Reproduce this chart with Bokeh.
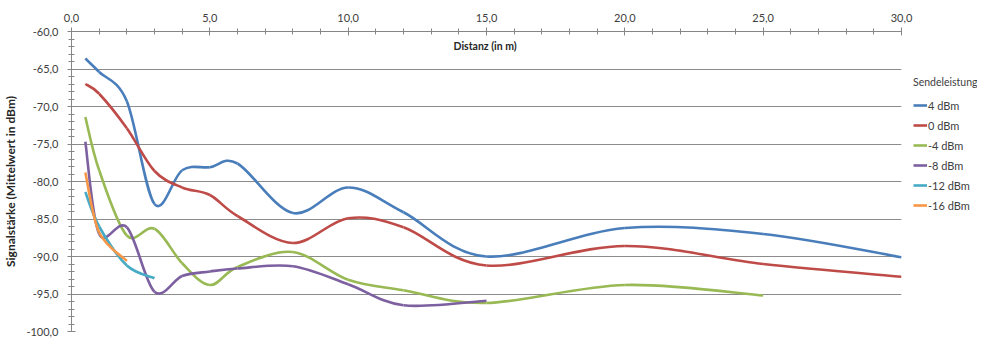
from bokeh.plotting import figure
from bokeh.layouts import row
from bokeh.models import (Range1d, SingleIntervalTicker, CustomJSTickFormatter, Label,
                          Legend, LegendItem, ColumnDataSource)
from bokeh.embed import file_html
from bokeh.resources import INLINE

# ---- data (distance in m, mean signal strength in dBm) ----
dist_p4 = [0.5, 1, 2, 3, 4, 5, 6, 8, 10, 12, 15, 20, 25, 30]
rssi_p4 = [-63.6, -65.4, -69.3, -83.0, -78.5, -78.1, -77.6, -84.2, -80.8, -84.1, -90.0, -86.2, -87.0, -90.1]
dist_0 = [0.5, 1, 2, 3, 4, 5, 6, 8, 10, 12, 15, 20, 25, 30]
rssi_0 = [-67.0, -68.3, -72.9, -78.6, -80.8, -81.8, -84.6, -88.2, -84.9, -86.1, -91.2, -88.6, -91.0, -92.7]
dist_m4 = [0.5, 1, 2, 3, 4, 5, 6, 8, 10, 12, 15, 20, 25]
rssi_m4 = [-71.4, -78.5, -87.2, -86.3, -90.9, -93.8, -91.4, -89.4, -93.1, -94.5, -96.2, -93.8, -95.2]
dist_m8 = [0.5, 1, 2, 3, 4, 5, 6, 8, 10, 12, 15]
rssi_m8 = [-74.7, -87.0, -86.1, -94.7, -92.6, -92.0, -91.6, -91.3, -93.7, -96.5, -95.9]
dist_m12 = [0.5, 1, 2, 3]
rssi_m12 = [-81.4, -86.0, -91.2, -92.9]
dist_m16 = [0.5, 1, 2]
rssi_m16 = [-78.8, -86.8, -90.6]

labels = ["4 dBm", "0 dBm", "-4 dBm", "-8 dBm", "-12 dBm", "-16 dBm"]
series = [(dist_p4, rssi_p4), (dist_0, rssi_0), (dist_m4, rssi_m4),
          (dist_m8, rssi_m8), (dist_m12, rssi_m12), (dist_m16, rssi_m16)]
colors = ["#4A7EBB", "#BE4B48", "#98B954", "#7D60A0", "#46AAC5", "#F79646"]

FONT = "Lato"
TXT = "#404040"
AX = "#868686"
LW = 2.6

p = figure(width=913, height=338, x_range=Range1d(0, 30), y_range=Range1d(-100, -60),
           x_axis_location="above", output_backend="svg", toolbar_location=None,
           min_border_left=70, min_border_right=12, min_border_top=31, min_border_bottom=7)
p.outline_line_color = None
p.background_fill_color = "white"
p.border_fill_color = "white"

fmt = CustomJSTickFormatter(code="return tick.toFixed(1).replace('.', ',');")

xa = p.xaxis[0]
xa.ticker = SingleIntervalTicker(interval=5, num_minor_ticks=5)
ya = p.yaxis[0]
ya.ticker = SingleIntervalTicker(interval=5, num_minor_ticks=5)
for ax in (xa, ya):
    ax.formatter = fmt
    ax.axis_line_color = AX
    ax.major_tick_line_color = AX
    ax.minor_tick_line_color = AX
    ax.major_tick_in = 4
    ax.major_tick_out = 4
    ax.minor_tick_in = 3
    ax.minor_tick_out = 3
    ax.major_label_text_font = FONT
    ax.major_label_text_font_size = "11px"
    ax.major_label_text_color = TXT
xa.major_label_standoff = 6
ya.major_label_standoff = 9
ya.axis_label = "Signalstärke (Mittelwert in dBm)"
ya.axis_label_text_font = FONT
ya.axis_label_text_font_style = "bold"
ya.axis_label_text_font_size = "12px"
ya.axis_label_text_color = "#262626"
ya.axis_label_standoff = 5

p.xgrid.grid_line_color = None
p.ygrid.ticker = SingleIntervalTicker(interval=5)
p.ygrid.grid_line_color = "#8c8c8c"
p.ygrid.grid_line_width = 1

# Excel-style smoothed lines, drawn as cubic Bezier segments between the data points
for (xs, ys), col in zip(series, colors):
    n = len(xs)
    d = dict(x0=[], y0=[], x1=[], y1=[], cx0=[], cy0=[], cx1=[], cy1=[])
    for i in range(n - 1):
        xa_, ya_ = xs[i], ys[i]
        xb_, yb_ = xs[i + 1], ys[i + 1]
        xp, yp = (xs[i - 1], ys[i - 1]) if i > 0 else (xa_, ya_)
        xn, yn = (xs[i + 2], ys[i + 2]) if i + 2 < n else (xb_, yb_)
        d["x0"].append(xa_); d["y0"].append(ya_)
        d["x1"].append(xb_); d["y1"].append(yb_)
        d["cx0"].append(xa_ + (xb_ - xp) / 6.0); d["cy0"].append(ya_ + (yb_ - yp) / 6.0)
        d["cx1"].append(xb_ - (xn - xa_) / 6.0); d["cy1"].append(yb_ - (yn - ya_) / 6.0)
    p.bezier(x0="x0", y0="y0", x1="x1", y1="y1", cx0="cx0", cy0="cy0", cx1="cx1", cy1="cy1",
             source=ColumnDataSource(d), line_color=col, line_width=LW)

p.add_layout(Label(x=14.95, y=-61.87, text="Distanz (in m)", text_font=FONT,
                   text_font_size="10.5px", text_font_style="bold", text_color="#262626",
                   text_baseline="middle", text_align="center"))

# legend panel (separate narrow figure to the right of the plot; its series lines
# fall outside its own ranges, so only the legend is visible there)
lg = figure(width=64, height=338, x_range=Range1d(0, 1), y_range=Range1d(0, 1),
            output_backend="svg", toolbar_location=None,
            min_border_left=0, min_border_right=0, min_border_top=0, min_border_bottom=0)
lg.axis.visible = False
lg.grid.visible = False
lg.outline_line_color = None
items = []
for (xs, ys), lab, col in zip(series, labels, colors):
    r = lg.line(x=xs, y=ys, line_color=col, line_width=LW)
    items.append(LegendItem(label=lab, renderers=[r]))
legend = Legend(items=items, location=(0, 119), padding=0, margin=0, spacing=6,
                glyph_width=14, glyph_height=14, label_height=14, label_standoff=1,
                label_text_font=FONT, label_text_font_size="11px", label_text_color=TXT,
                title="Sendeleistung", title_text_font=FONT, title_text_font_size="10.5px",
                title_text_font_style="normal", title_text_color=TXT, title_standoff=10,
                background_fill_alpha=0, border_line_color=None)
lg.add_layout(legend, "center")

layout = row(p, lg, spacing=0)
open("out.html", "w").write(file_html(layout, INLINE))
